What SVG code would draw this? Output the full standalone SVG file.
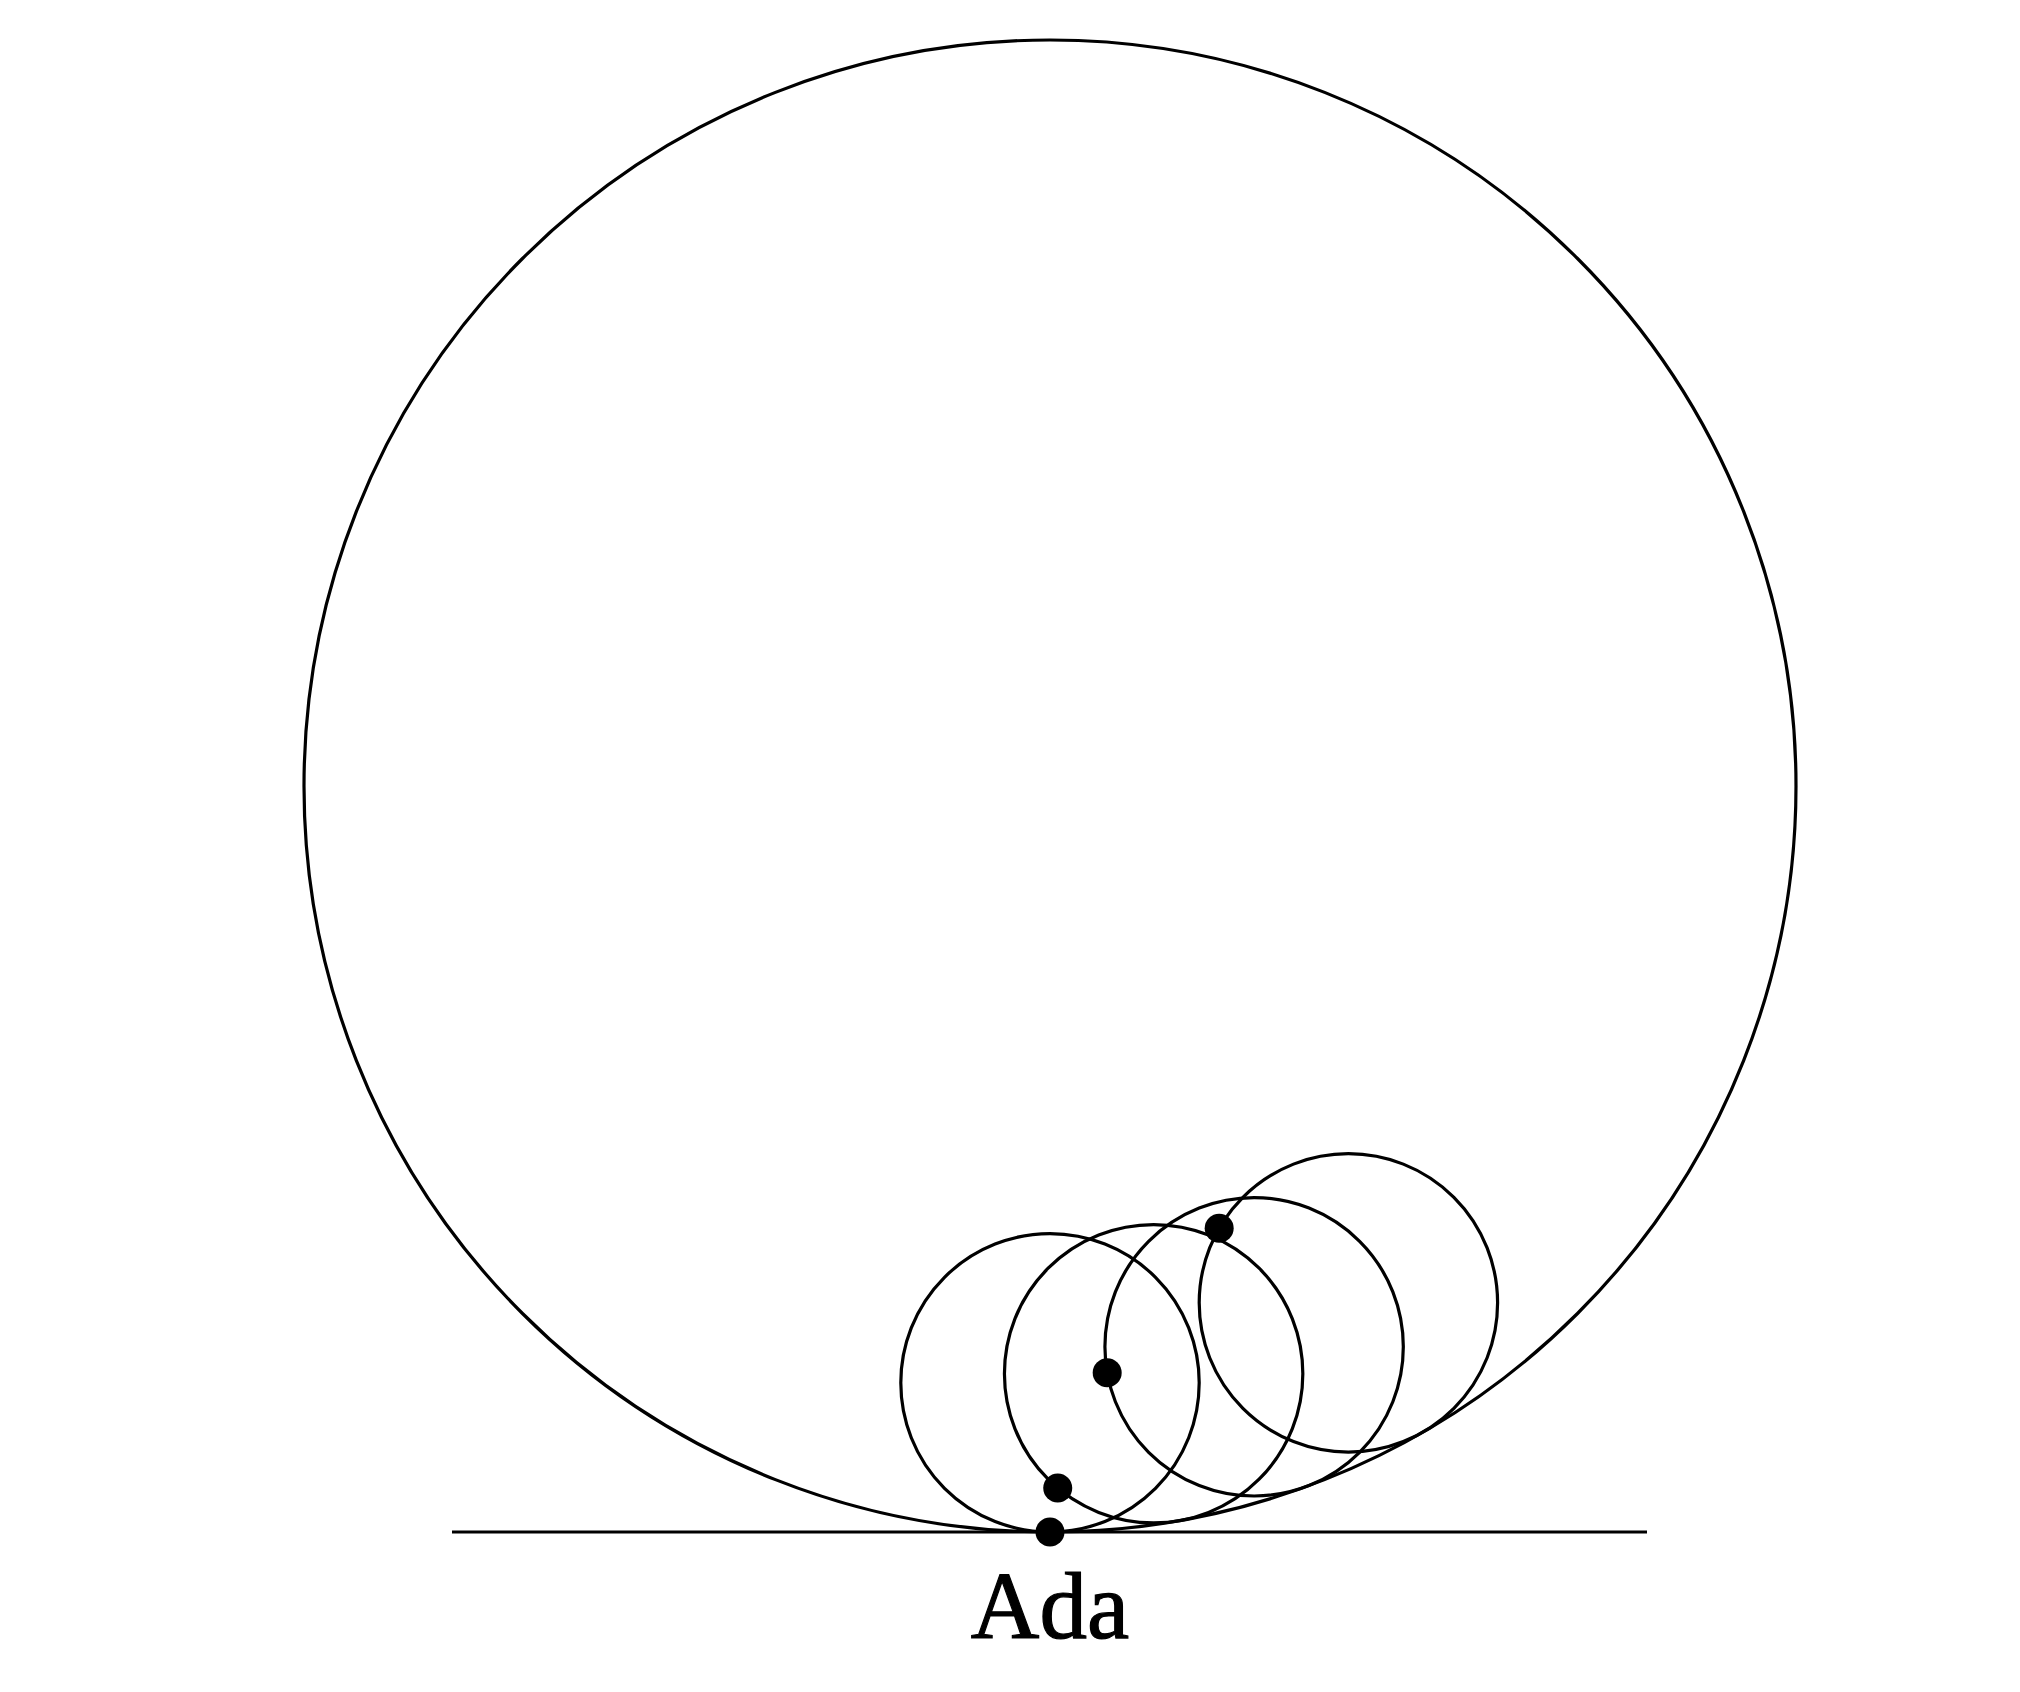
<svg xmlns="http://www.w3.org/2000/svg" width="2020" height="1692" viewBox="0 0 2020 1692">
  <style>
    .c { fill: none; stroke: #000; stroke-width: 3.2; }
    .d { fill: #000; }
    .t { font-family: "Liberation Serif", "DejaVu Serif", serif; font-size: 95px; fill: #000; stroke: #000; stroke-width: 1.2; }
  </style>
  <rect width="2020" height="1692" fill="#fff"/>
  <g id="fixed-circle"><circle class="c" cx="1050" cy="786" r="746"/></g>
  <g id="ground-line"><line class="c" x1="452" y1="1532" x2="1647" y2="1532"/></g>
  <g id="rolling-circles">
    <circle class="c" cx="1050" cy="1382.8" r="149.2"/>
    <circle class="c" cx="1153.63" cy="1373.73" r="149.2"/>
    <circle class="c" cx="1254.12" cy="1346.81" r="149.2"/>
    <circle class="c" cx="1348.4" cy="1302.84" r="149.2"/>
  </g>
  <g id="points">
    <circle class="d" cx="1050" cy="1532" r="14.5"/>
    <circle class="d" cx="1057.73" cy="1488.02" r="14.5"/>
    <circle class="d" cx="1107.19" cy="1372.72" r="14.5"/>
    <circle class="d" cx="1219.19" cy="1228.24" r="14.5"/>
  </g>
  <g id="label"><text class="t" x="1050" y="1638" text-anchor="middle">Ada</text></g>
</svg>
